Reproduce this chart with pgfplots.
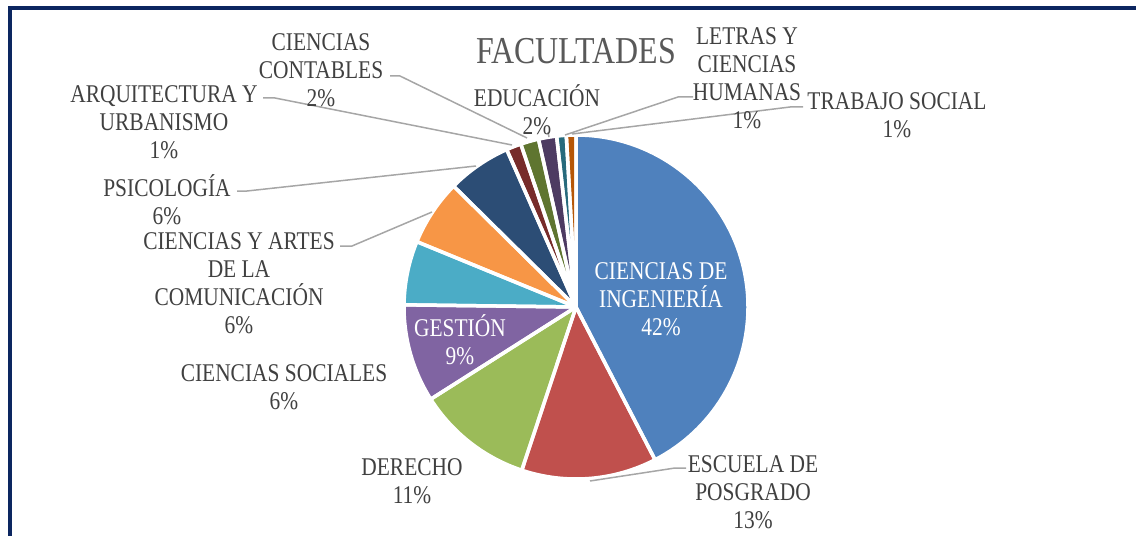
\documentclass[border=0pt]{standalone}
\usepackage{fontspec}
\setmainfont{Liberation Serif}[FakeStretch=0.84]
\usepackage{pgfplots}
\usepackage{pgfplotstable}
\pgfplotsset{compat=1.18}

\definecolor{c0}{HTML}{4F81BD}
\definecolor{c1}{HTML}{C0504D}
\definecolor{c2}{HTML}{9BBB59}
\definecolor{c3}{HTML}{8064A2}
\definecolor{c4}{HTML}{4BACC6}
\definecolor{c5}{HTML}{F79646}
\definecolor{c6}{HTML}{2C4D75}
\definecolor{c7}{HTML}{772C2A}
\definecolor{c8}{HTML}{5F7530}
\definecolor{c9}{HTML}{4D3B62}
\definecolor{c10}{HTML}{276A7C}
\definecolor{c11}{HTML}{B65708}
\definecolor{marco}{HTML}{0C2660}
\definecolor{texto}{HTML}{404040}
\definecolor{gris}{HTML}{A6A6A6}

\tikzset{
  lab/.style={font=\fontsize{25.5bp}{28bp}\selectfont, text=texto, align=center, inner sep=0pt},
  leader/.style={draw=gris, line width=1.5bp},
}

% porcentaje por facultad, en el orden de las agujas del reloj desde arriba
\pgfplotstableread{
valor
42.4
12.7
10.9
9.2
6.0
6.2
6.0
1.4
1.7
1.7
0.9
0.9
}\facultades

\begin{document}
\begin{tikzpicture}
\def\acum{0}%
\pgfplotsforeachungrouped \i in {0,...,11}{%
  \pgfplotstablegetelem{\i}{valor}\of\facultades
  \pgfmathsetmacro\ini{90-3.6*\acum}%
  \pgfmathsetmacro\acum{\acum+\pgfplotsretval}%
  \pgfmathsetmacro\fin{90-3.6*\acum}%
  \expandafter\xdef\csname ini\i\endcsname{\ini}%
  \expandafter\xdef\csname fin\i\endcsname{\fin}%
}%
\begin{axis}[
  scale only axis, width=1136bp, height=536bp,
  xmin=0, xmax=1136, ymin=0, ymax=536, y dir=reverse,
  hide axis, clip=false,
]
\coordinate (ai) at (axis cs:0,0);
\coordinate (bd) at (axis cs:1136,536);
% marco
\draw[marco, line width=4bp] (axis cs:10,540) -- (axis cs:10,8) -- (axis cs:1140,8);
% sectores
\pgfplotsinvokeforeach{0,...,11}{
  \fill[c#1] (axis cs:576,307) -- ++({\csname ini#1\endcsname}:172bp)
    arc[start angle={\csname ini#1\endcsname}, end angle={\csname fin#1\endcsname}, radius=172bp] -- cycle;
}
\pgfplotsinvokeforeach{0,...,11}{
  \draw[white, line width=3.5bp, line join=round] (axis cs:576,307) -- ++({\csname ini#1\endcsname}:172bp)
    arc[start angle={\csname ini#1\endcsname}, end angle={\csname fin#1\endcsname}, radius=172bp] -- cycle;
}
% lineas guia
\draw[leader] (axis cs:590,481) -- (axis cs:675,468) -- (axis cs:686,468);
\draw[leader] (axis cs:432,212) -- (axis cs:352,246) -- (axis cs:340,246);
\draw[leader] (axis cs:476,166) -- (axis cs:247,191) -- (axis cs:237,191);
\draw[leader] (axis cs:512,145) -- (axis cs:275,98) -- (axis cs:263,98);
\draw[leader] (axis cs:527,138) -- (axis cs:400,76) -- (axis cs:390,76);
\draw[leader] (axis cs:548,132) -- (axis cs:549,137);
\draw[leader] (axis cs:565,135) -- (axis cs:678,97) -- (axis cs:693,97);
\draw[leader] (axis cs:572,134) -- (axis cs:790,107) -- (axis cs:803,107);
% titulo
\node[lab, font=\fontsize{38bp}{42bp}\selectfont, text=black!65] at (axis cs:576,51.5) {FACULTADES};
% etiquetas
\node[lab, text=white] at (axis cs:661,299.5) {CIENCIAS DE\\INGENIERÍA\\42\%};
\node[lab] at (axis cs:753,492) {ESCUELA DE\\POSGRADO\\13\%};
\node[lab] at (axis cs:412,481.5) {DERECHO\\11\%};
\node[lab, text=white] at (axis cs:460,340) {GESTIÓN\\9\%};
\node[lab] at (axis cs:284,387.5) {CIENCIAS SOCIALES\\6\%};
\node[lab] at (axis cs:239,283) {CIENCIAS Y ARTES\\DE LA\\COMUNICACIÓN\\6\%};
\node[lab] at (axis cs:167,199.5) {PSICOLOGÍA\\6\%};
\node[lab] at (axis cs:164,122) {ARQUITECTURA Y\\URBANISMO\\1\%};
\node[lab] at (axis cs:321,70.5) {CIENCIAS\\CONTABLES\\2\%};
\node[lab] at (axis cs:537,109.5) {EDUCACIÓN\\2\%};
\node[lab] at (axis cs:747,78) {LETRAS Y\\CIENCIAS\\HUMANAS\\1\%};
\node[lab] at (axis cs:897,115.5) {TRABAJO SOCIAL\\1\%};
\end{axis}
\pgfresetboundingbox
\path[use as bounding box] (ai) rectangle (bd);
\end{tikzpicture}
\end{document}
